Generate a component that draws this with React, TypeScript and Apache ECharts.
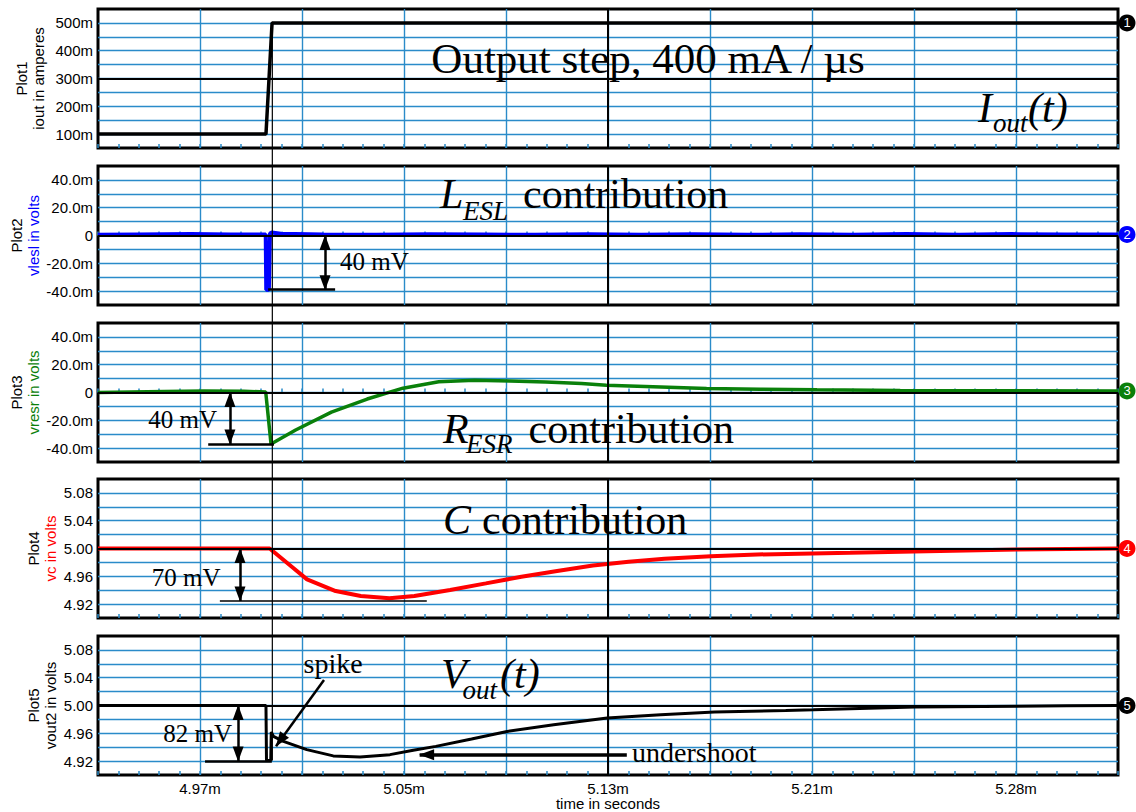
import React, { useEffect, useRef } from "react";
import * as echarts from "echarts";

const SANS = "Arial, 'Liberation Sans', Helvetica, sans-serif";
const SERIF = "'Times New Roman', 'Liberation Serif', Times, serif";
const GRID_BLUE = "#2a8bc9";

// ---- time axis (ms) ----
const T_MIN = 4.935;
const T_DIV = 0.0385;
const T_MAX = 5.32;
const CURSOR_T = 5.0008;
const X_TICK_LABELS = ["", "4.97m", "", "5.05m", "", "5.13m", "", "5.21m", "", "5.28m", ""];

// ---- y tick labels ----
const Y1_TICKS = [100, 200, 300, 400, 500];
const Y1_LABELS = ["100m", "200m", "300m", "400m", "500m"];
const Y23_TICKS = [-40, -20, 0, 20, 40];
const Y23_LABELS = ["-40.0m", "-20.0m", "0", "20.0m", "40.0m"];
const Y45_TICKS = [4.92, 4.96, 5.0, 5.04, 5.08];
const Y45_LABELS = ["4.92", "4.96", "5.00", "5.04", "5.08"];

// ---- Plot1: iout (mA) ----
const IOUT_T = [4.935, 4.9984, 5.0007, 5.32];
const IOUT_MA = [100, 100, 500, 500];

// ---- Plot2: vlesl (mV) ----
const VLESL_T = [4.935, 4.95, 4.97, 4.985, 4.9983, 4.9985, 4.9995, 4.9999, 5.0006, 5.004, 5.02, 5.04, 5.06, 5.08, 5.1, 5.12, 5.14, 5.16, 5.18, 5.2, 5.22, 5.24, 5.26, 5.28, 5.3, 5.32];
const VLESL_MV = [0.6, 0.8, 1.0, 0.8, 0.7, -39, -39, 1.5, 2.2, 1.2, 0.8, 0.6, 0.9, 0.7, 0.5, 0.9, 0.6, 0.9, 0.5, 0.9, 0.6, 1.0, 0.6, 1.0, 0.7, 0.8];

// ---- Plot3: vresr (mV) ----
const VRESR_T = [4.935, 4.96, 4.975, 4.99, 4.9983, 5.0003, 5.0096, 5.0231, 5.0366, 5.0501, 5.0636, 5.0771, 5.0905, 5.104, 5.1175, 5.1269, 5.1445, 5.1647, 5.1849, 5.2064, 5.2378, 5.2755, 5.32];
const VRESR_MV = [0, 0.8, 1.0, 0.9, 0.4, -37, -27, -14.1, -4.7, 3.1, 7.8, 8.8, 8.3, 7.6, 6.4, 5.2, 4.2, 2.8, 2.4, 1.9, 1.5, 1.2, 1.1];

// ---- Plot4: vc (V) ----
const VC_T = [4.935, 4.9998, 5.0086, 5.0139, 5.0247, 5.0342, 5.045, 5.0544, 5.0679, 5.0814, 5.0948, 5.1083, 5.1218, 5.1353, 5.1488, 5.1663, 5.1838, 5.2189, 5.2818, 5.32];
const VC_V = [5.0, 5.0, 4.9723, 4.9556, 4.9388, 4.9316, 4.9283, 4.9316, 4.9402, 4.9498, 4.9594, 4.9675, 4.9756, 4.9809, 4.9852, 4.989, 4.9914, 4.9938, 4.9986, 5.0];

// ---- Plot5: vout2 (V) ----
const VOUT_T = [4.935, 4.9984, 4.9986, 5.0002, 5.0004, 5.0012, 5.005, 5.0138, 5.0238, 5.0339, 5.0452, 5.054, 5.0625, 5.076, 5.0894, 5.107, 5.1272, 5.1474, 5.1677, 5.1946, 5.205, 5.2434, 5.3007, 5.32];
const VOUT_V = [5.0, 5.0, 4.921, 4.921, 4.962, 4.9556, 4.9484, 4.9365, 4.9275, 4.9258, 4.9293, 4.9355, 4.9412, 4.9518, 4.9627, 4.9723, 4.9819, 4.9867, 4.9905, 4.9928, 4.9938, 4.9977, 4.9996, 5.0];

// ---- annotation marks (data coordinates) ----
const P2_BASE = [[4.9992, -39], [5.0245, -39]];
const P2_ARROW = [[5.0207, 0], [5.0207, -39]];
const P3_BASE = [[4.9766, -37], [5.0014, -37]];
const P3_ARROW = [[4.9848, 0], [4.9848, -37]];
const P4_BASE = [[4.981, 4.9245], [5.0591, 4.9245]];
const P4_ARROW = [[4.9886, 5.0], [4.9886, 4.9245]];
const P5_BASE = [[4.9754, 4.92], [5.0006, 4.92]];
const P5_ARROW = [[4.9879, 5.0], [4.9879, 4.92]];
const SPIKE_ARROW = [[5.0203, 5.0368], [5.0022, 4.9415]];
const UNDER_ARROW = [[5.1346, 4.9293], [5.0564, 4.9293]];

const PLOT_TOPS = [9, 166, 323, 479, 636];
const PLOT_H = 139;
const PLOT_LEFT = 98;
const PLOT_W = 1020;

const zip = (t: number[], v: number[]) => t.map((x, i) => [x, v[i]]);

const ARROW_SIZE = [11, 15];
const ARROW_OFF = [0, 7];

function seg(p: number[][], width: number, startArrow: boolean, endArrow: boolean) {
  return [
    {
      coord: p[0],
      symbol: startArrow ? "triangle" : "none",
      symbolSize: ARROW_SIZE,
      symbolOffset: ARROW_OFF,
      lineStyle: { color: "#000", width, type: "solid" },
    },
    {
      coord: p[1],
      symbol: endArrow ? "triangle" : "none",
      symbolSize: ARROW_SIZE,
      symbolOffset: ARROW_OFF,
    },
  ];
}

const PLOTS = [
  {
    name1: "Plot1", name2: "iout in amperes", color: "#000000", min: 50, max: 550, interval: 50, mid: 300,
    ticks: Y1_TICKS, labels: Y1_LABELS, nameGap: 51, data: zip(IOUT_T, IOUT_MA), width: 3.5, num: "1",
    marks: [] as any[],
  },
  {
    name1: "Plot2", name2: "vlesl in volts", color: "#0000ff", min: -50, max: 50, interval: 10, mid: 0,
    ticks: Y23_TICKS, labels: Y23_LABELS, nameGap: 56, data: zip(VLESL_T, VLESL_MV), width: 4, num: "2",
    marks: [seg(P2_BASE, 2.5, false, false), seg(P2_ARROW, 2.5, true, true)],
  },
  {
    name1: "Plot3", name2: "vresr in volts", color: "#0a800a", min: -50, max: 50, interval: 10, mid: 0,
    ticks: Y23_TICKS, labels: Y23_LABELS, nameGap: 56, data: zip(VRESR_T, VRESR_MV), width: 3.5, num: "3",
    marks: [seg(P3_BASE, 2.5, false, false), seg(P3_ARROW, 2.5, true, true)],
  },
  {
    name1: "Plot4", name2: "vc in volts", color: "#ff0000", min: 4.9, max: 5.1, interval: 0.02, mid: 5.0,
    ticks: Y45_TICKS, labels: Y45_LABELS, nameGap: 39, data: zip(VC_T, VC_V), width: 4, num: "4",
    marks: [seg(P4_BASE, 1.5, false, false), seg(P4_ARROW, 2.5, true, true)],
  },
  {
    name1: "Plot5", name2: "vout2 in volts", color: "#000000", min: 4.9, max: 5.1, interval: 0.02, mid: 5.0,
    ticks: Y45_TICKS, labels: Y45_LABELS, nameGap: 39, data: zip(VOUT_T, VOUT_V), width: 3, num: "5",
    marks: [
      seg(P5_BASE, 2.5, false, false),
      seg(P5_ARROW, 2.5, true, true),
      seg(SPIKE_ARROW, 2.5, false, true),
      seg(UNDER_ARROW, 3.5, false, true),
    ],
  },
];

// annotation texts: [text, x, baseline, fontSize, italic, align]
const TEXTS: [string, number, number, number, boolean, string][] = [
  ["Output step, 400 mA / \u00b5s", 648, 73.3, 43, false, "center"],
  ["I", 978, 121.7, 42, true, "left"],
  ["out", 993, 131.7, 27, true, "left"],
  ["(t)", 1028, 121.7, 42, true, "left"],
  ["L", 440, 208.3, 42, true, "left"],
  ["ESL", 463, 220, 27, true, "left"],
  ["contribution", 523, 208.3, 42, false, "left"],
  ["R", 443, 442.7, 42, true, "left"],
  ["ESR", 466, 453.3, 27, true, "left"],
  ["contribution", 528.6, 442.7, 42, false, "left"],
  ["C", 443, 534, 42, true, "left"],
  ["contribution", 482, 534, 42, false, "left"],
  ["V", 441, 688.3, 42, true, "left"],
  ["out", 462.5, 699.3, 27, true, "left"],
  ["(t)", 500, 688.3, 42, true, "left"],
  ["40 mV", 340, 270, 25, false, "left"],
  ["40 mV", 148.3, 428.3, 25, false, "left"],
  ["70 mV", 151.7, 586, 25, false, "left"],
  ["82 mV", 163.3, 741.7, 25, false, "left"],
  ["spike", 303.6, 673.3, 28, false, "left"],
  ["undershoot", 632, 761.7, 28, false, "left"],
];

function labelFor(ticks: number[], labels: string[], v: number) {
  for (let i = 0; i < ticks.length; i++) {
    if (Math.abs(ticks[i] - v) < 1e-6) return labels[i];
  }
  return "";
}

export default function App() {
  const ref = useRef<HTMLDivElement>(null);

  useEffect(() => {
    document.body.style.margin = "0";
    if (!ref.current) return;
    const chart = echarts.init(ref.current, undefined, { renderer: "svg" });

    const grids = PLOTS.map((_, i) => ({
      left: PLOT_LEFT,
      top: PLOT_TOPS[i],
      width: PLOT_W,
      height: PLOT_H,
      show: true,
      borderColor: "#000",
      borderWidth: 3,
      backgroundColor: "#fff",
      containLabel: false,
    }));

    const xAxes = PLOTS.map((_, i) => ({
      type: "value",
      gridIndex: i,
      min: T_MIN,
      max: T_MAX,
      interval: T_DIV,
      axisLine: { show: false },
      axisTick: { show: true, inside: true, length: 4, lineStyle: { color: GRID_BLUE, width: 1.5 } },
      minorTick: { show: true, splitNumber: 5, length: 4, lineStyle: { color: GRID_BLUE, width: 1.5 } },
      splitLine: { show: true, showMinLine: false, showMaxLine: false, lineStyle: { color: GRID_BLUE, width: 1.4 } },
      axisLabel: {
        show: i === 4,
        margin: 6,
        fontSize: 15,
        color: "#000",
        fontFamily: SANS,
        formatter: (v: number) => X_TICK_LABELS[Math.round((v - T_MIN) / T_DIV)] ?? "",
      },
      name: i === 4 ? "time in seconds" : "",
      nameLocation: "middle",
      nameGap: 21,
      nameMoveOverlap: false,
      nameTextStyle: { fontSize: 15, color: "#000", fontFamily: SANS },
    }));

    const yAxes = PLOTS.map((p, i) => ({
      type: "value",
      gridIndex: i,
      min: p.min,
      max: p.max,
      interval: p.interval,
      axisLine: { show: false },
      axisTick: { show: false },
      splitLine: { show: true, showMinLine: false, showMaxLine: false, lineStyle: { color: GRID_BLUE, width: 1.4 } },
      axisLabel: {
        margin: 5,
        fontSize: 15,
        color: "#000",
        fontFamily: SANS,
        formatter: (v: number) => labelFor(p.ticks, p.labels, v),
      },
      name: `{a|${p.name1}}\n{b|${p.name2}}`,
      nameLocation: "middle",
      nameRotate: 90,
      nameGap: p.nameGap,
      nameMoveOverlap: false,
      nameTextStyle: {
        fontSize: 15,
        fontFamily: SANS,
        lineHeight: 17,
        rich: {
          a: { fontSize: 15, fontFamily: SANS, color: "#000", lineHeight: 17 },
          b: { fontSize: 15, fontFamily: SANS, color: p.color, lineHeight: 17 },
        },
      },
    }));

    const series = PLOTS.map((p, i) => ({
      type: "line",
      xAxisIndex: i,
      yAxisIndex: i,
      data: p.data,
      showSymbol: false,
      symbol: "none",
      lineStyle: { color: p.color, width: p.width },
      itemStyle: { color: p.color },
      z: 3,
      markLine: {
        silent: true,
        precision: 6,
        symbol: ["none", "none"],
        label: { show: false },
        emphasis: { disabled: true },
        lineStyle: { color: "#000", width: 2, type: "solid" },
        itemStyle: { color: "#000" },
        data: [{ yAxis: p.mid }, { xAxis: T_MIN + 5 * T_DIV }, ...p.marks],
      },
      markPoint: {
        silent: true,
        symbol: "circle",
        symbolSize: 17,
        symbolOffset: [9, 0],
        itemStyle: { color: p.color },
        label: {
          show: true,
          position: "inside",
          formatter: p.num,
          color: "#fff",
          fontSize: 13,
          fontFamily: SANS,
        },
        data: [{ coord: p.data[p.data.length - 1] }],
      },
    }));

    const texts = TEXTS.map(([text, x, base, fs, italic, align]) => ({
      type: "text",
      x,
      y: base - 0.3375 * fs,
      silent: true,
      z: 10,
      style: {
        text,
        fontSize: fs,
        fontFamily: SERIF,
        fontStyle: italic ? "italic" : "normal",
        fill: "#000",
        align,
        verticalAlign: "middle",
      },
    }));

    chart.setOption({
      animation: false,
      backgroundColor: "#fff",
      grid: grids,
      xAxis: xAxes,
      yAxis: yAxes,
      series,
      graphic: texts,
    } as any);

    const cx = chart.convertToPixel({ xAxisIndex: 0 } as any, CURSOR_T) as unknown as number;
    const yTop = chart.convertToPixel({ yAxisIndex: 0 } as any, IOUT_MA[IOUT_MA.length - 1]) as unknown as number;
    const yBot = chart.convertToPixel({ yAxisIndex: 4 } as any, Math.min(...VOUT_V)) as unknown as number;

    chart.setOption({
      graphic: [
        ...texts,
        {
          type: "line",
          silent: true,
          z: 9,
          shape: { x1: cx, y1: yTop, x2: cx, y2: yBot },
          style: { stroke: "#000", lineWidth: 1.2 },
        },
      ],
    } as any);

    return () => chart.dispose();
  }, []);

  return <div ref={ref} style={{ width: 1136, height: 812 }} />;
}
